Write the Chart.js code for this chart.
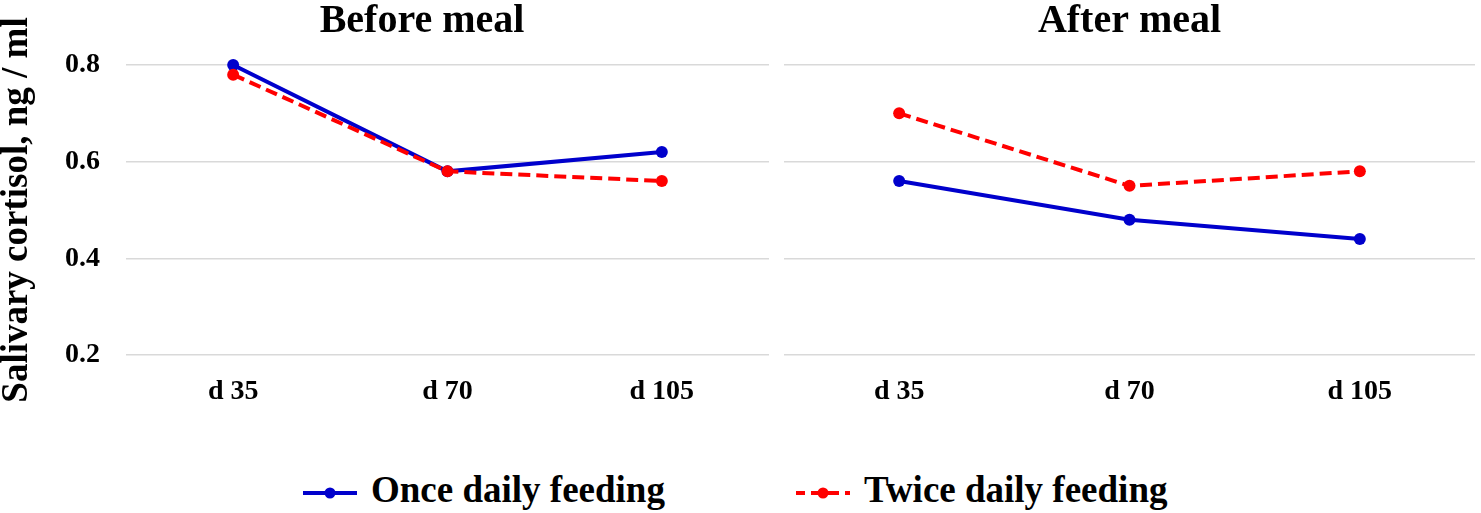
<!DOCTYPE html>
<html>
<head>
<meta charset="utf-8">
<script src="https://cdn.jsdelivr.net/npm/chart.js@4.4.1/dist/chart.umd.min.js"></script>
<style>
  body { margin: 0; background: #fff; }
  #wrap { position: relative; width: 1481px; height: 513px; overflow: hidden; background: #fff;
          font-family: "Liberation Serif", "Times New Roman", serif; }
  #left { position: absolute; left: 0; top: 0; }
  #right { position: absolute; left: 700px; top: 0; }
  #legend { position: absolute; left: 303px; top: 471px; display: flex; gap: 131px; }
  .item { display: flex; align-items: flex-start; font-weight: bold; font-size: 37px; line-height: 37px; color: #000; white-space: nowrap; }
  .item canvas { margin-right: 14px; }
</style>
</head>
<body>
<div id="wrap">
  <canvas id="left" width="844" height="420"></canvas>
  <canvas id="right" width="781" height="420"></canvas>
  <div id="legend"></div>
</div>
<script>
var days = ["d 35", "d 70", "d 105"];
var yTicks = [0.2, 0.4, 0.6, 0.8];
var seriesNames = ["Once daily feeding", "Twice daily feeding"];
var panelTitles = ["Before meal", "After meal"];
var yTitle = "Salivary cortisol, ng / ml";

var beforeOnce = [0.80, 0.58, 0.62];
var beforeTwice = [0.78, 0.58, 0.56];
var afterOnce = [0.56, 0.48, 0.44];
var afterTwice = [0.70, 0.55, 0.58];

(function () {
  var BLUE = "#0000cc";
  var RED = "#ff0000";
  var GRID = "#d9d9d9";
  var FAMILY = "'Liberation Serif', 'Times New Roman', serif";
  var tickFont = { family: FAMILY, size: 28, weight: "bold" };

  function series(once, twice) {
    return [
      {
        label: seriesNames[0],
        data: once,
        borderColor: BLUE,
        backgroundColor: BLUE,
        pointBackgroundColor: BLUE,
        borderWidth: 4,
        pointRadius: 6,
        pointBorderWidth: 0,
        tension: 0,
        clip: false,
        order: 1,
      },
      {
        label: seriesNames[1],
        data: twice,
        borderColor: RED,
        backgroundColor: RED,
        pointBackgroundColor: RED,
        borderWidth: 4,
        borderDash: [12, 6],
        pointRadius: 6,
        pointBorderWidth: 0,
        tension: 0,
        clip: false,
        order: 0,
      },
    ];
  }

  function xAxis() {
    return {
      type: "category",
      offset: true,
      grid: { display: false },
      border: { display: false },
      ticks: { padding: 12, color: "#000", font: tickFont },
      afterFit: function (s) { s.height = 65; },
    };
  }

  function yAxis(width, showLabels) {
    return {
      min: 0.2,
      max: 0.8,
      afterBuildTicks: function (s) {
        s.ticks = yTicks.map(function (v) { return { value: v }; });
      },
      afterFit: function (s) { s.width = width; },
      grid: { color: GRID, lineWidth: 1.5, drawTicks: false },
      border: { display: false },
      ticks: {
        display: showLabels,
        padding: 26,
        color: "#000",
        font: tickFont,
        callback: function (v) { return v.toFixed(1); },
      },
      title: {
        display: showLabels,
        text: yTitle,
        color: "#000",
        font: { family: FAMILY, size: 37, weight: "bold", lineHeight: 1 },
        padding: { top: -1, bottom: 0 },
      },
    };
  }

  function titleOpts(text, fullSize) {
    return {
      display: true,
      text: text,
      fullSize: fullSize,
      color: "#000",
      font: { family: FAMILY, size: 40, weight: "bold", lineHeight: 1 },
      padding: { top: 2, bottom: 23 },
    };
  }

  var base = {
    responsive: false,
    animation: false,
    devicePixelRatio: 1,
    layout: { padding: 0 },
  };

  var left = new Chart(document.getElementById("left"), {
    type: "line",
    data: { labels: days, datasets: series(beforeOnce, beforeTwice) },
    options: Object.assign({}, base, {
      plugins: {
        legend: { display: false },
        tooltip: { enabled: false },
        title: titleOpts(panelTitles[0], true),
      },
      scales: {
        x: xAxis(),
        y: yAxis(126, true),
        // empty axis on the right, keeps the title centred like the original
        y2: {
          position: "right",
          min: 0,
          max: 1,
          grid: { display: false },
          border: { display: false },
          ticks: { display: false },
          afterFit: function (s) { s.width = 75; },
        },
      },
    }),
  });

  new Chart(document.getElementById("right"), {
    type: "line",
    data: { labels: days, datasets: series(afterOnce, afterTwice) },
    options: Object.assign({}, base, {
      plugins: {
        legend: { display: false },
        tooltip: { enabled: false },
        title: titleOpts(panelTitles[1], false),
      },
      scales: {
        x: xAxis(),
        y: yAxis(84, false),
      },
    }),
  });

  // html legend, line + marker swatches
  var box = document.getElementById("legend");
  left.data.datasets.forEach(function (ds) {
    var item = document.createElement("div");
    item.className = "item";
    var sw = document.createElement("canvas");
    sw.width = 54;
    sw.height = 37;
    var ctx = sw.getContext("2d");
    ctx.strokeStyle = ds.borderColor;
    ctx.lineWidth = ds.borderWidth;
    if (ds.borderDash) {
      ctx.setLineDash([11, 6]);
      ctx.lineDashOffset = 2;
    }
    ctx.beginPath();
    ctx.moveTo(0, 22);
    ctx.lineTo(54, 22);
    ctx.stroke();
    ctx.fillStyle = ds.borderColor;
    ctx.beginPath();
    ctx.arc(27, 22, 5.5, 0, Math.PI * 2);
    ctx.fill();
    var label = document.createElement("span");
    label.textContent = ds.label;
    item.appendChild(sw);
    item.appendChild(label);
    box.appendChild(item);
  });
})();
</script>
</body>
</html>
